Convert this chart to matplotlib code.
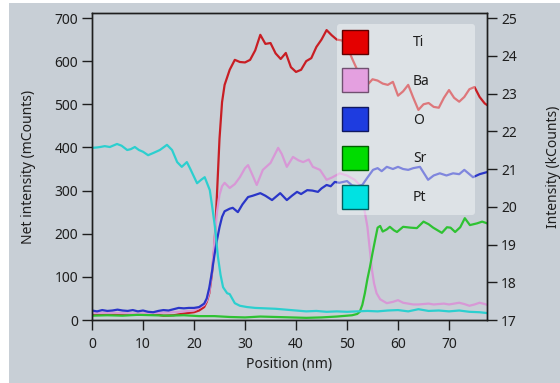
import matplotlib
matplotlib.use("Agg")
from matplotlib import pyplot as plt
from matplotlib.patches import Patch, Rectangle

plt.rcParams['font.family'] = ['Noto Sans', 'DejaVu Sans']

# (position nm, net intensity mCounts)
ti = [(0, 12), (2, 13), (4, 12), (6, 14), (8, 13), (10, 12), (12, 14), (14, 10), (16, 11),
      (18, 15), (20, 18), (21, 22), (22, 30), (22.5, 42), (23, 62), (23.5, 105), (24, 170),
      (24.5, 290), (25, 420), (25.5, 505), (26, 545), (27, 580), (28, 603), (29, 598),
      (30, 597), (31, 603), (32, 625), (33, 661), (34, 640), (35, 642), (36, 618), (37, 605),
      (38, 619), (39, 586), (40, 575), (41, 580), (42, 600), (43, 607), (44, 633), (45, 650),
      (46, 672), (47, 660), (48, 650), (49, 648), (50, 635), (51, 606), (52, 580), (53, 550),
      (54, 545), (55, 558), (56, 555), (57, 548), (58, 545), (59, 552), (60, 520), (61, 530),
      (62, 545), (63, 515), (64, 487), (65, 500), (66, 503), (67, 494), (68, 492), (69, 515),
      (70, 533), (71, 515), (72, 506), (73, 517), (74, 535), (75, 540), (76, 517), (77, 502),
      (77.5, 498)]
ba = [(0, 16), (4, 17), (8, 15), (12, 16), (16, 18), (20, 22), (21, 28), (22, 35), (22.5, 45),
      (23, 65), (23.5, 110), (24, 180), (24.5, 250), (25, 290), (25.5, 310), (26, 318),
      (27, 306), (28, 315), (29, 331), (30, 352), (30.6, 359), (31.5, 335), (32.3, 313),
      (33.5, 348), (35, 364), (36.5, 399), (37.2, 385), (38.2, 355), (39.4, 378), (40.5, 370),
      (41.4, 366), (42.5, 372), (43.3, 355), (44.7, 348), (46, 325), (47, 330), (48.6, 340),
      (50, 335), (51.5, 325), (52.5, 313), (53, 280), (53.5, 250), (54, 216), (54.5, 160),
      (54.9, 116), (55.3, 85), (55.8, 62), (56.5, 48), (57.8, 39), (59, 42), (60, 46),
      (61, 40), (62, 38), (63, 36), (64, 36), (65, 37), (66, 38), (67, 36), (68, 37), (69, 38),
      (70, 36), (71, 38), (72, 40), (73, 37), (74, 33), (75, 36), (76, 40), (77, 37), (77.5, 35)]
o = [(0, 22), (1, 20), (2, 23), (3, 21), (4, 22), (5, 24), (6, 22), (7, 21), (8, 23), (9, 20),
     (10, 22), (11, 19), (12, 18), (13, 21), (14, 23), (15, 22), (16, 25), (17, 28), (18, 27),
     (19, 28), (20, 28), (21, 30), (22, 38), (22.5, 50), (23, 75), (23.5, 110), (24, 150),
     (24.5, 185), (25, 215), (25.5, 239), (26, 252), (26.5, 255), (27, 258), (27.6, 260),
     (28.6, 250), (29.5, 268), (30.6, 285), (31.5, 288), (33, 294), (34, 288), (35.3, 278),
     (36.9, 294), (38.2, 278), (39.2, 288), (40.2, 297), (41, 292), (42.2, 301), (43.2, 300),
     (44.3, 297), (45, 305), (46, 313), (46.8, 310), (47.6, 320), (48.5, 318), (50, 322),
     (51, 312), (52, 310), (53, 313), (54, 330), (55.1, 348), (56, 352), (56.8, 345),
     (57.8, 355), (59, 350), (60, 355), (61, 350), (62, 348), (63, 352), (64.3, 355),
     (65.9, 325), (67, 335), (68.2, 340), (69.5, 335), (70.8, 340), (72, 338), (73, 348),
     (74.7, 331), (76, 338), (77.5, 343)]
sr = [(0, 10), (3, 11), (6, 10), (9, 12), (12, 11), (15, 10), (18, 11), (21, 9), (24, 9),
      (27, 7), (30, 6), (33, 8), (36, 7), (39, 6), (42, 5), (45, 6), (48, 8), (50, 10),
      (51, 11), (52, 14), (52.5, 19), (53, 35), (53.5, 62), (54, 95), (54.5, 123), (55, 155),
      (55.5, 185), (56, 214), (56.5, 218), (57, 205), (57.8, 210), (58.4, 216), (59.2, 208),
      (59.8, 204), (61, 216), (62.5, 214), (63.7, 213), (65, 228), (66, 222), (66.9, 214),
      (68.6, 202), (69.6, 215), (70.3, 214), (71.2, 204), (72.2, 215), (73.1, 236),
      (74.1, 220), (75.5, 224), (76.5, 228), (77.5, 224)]
pt = [(0, 399), (1, 400), (1.6, 401), (2.5, 403), (3.5, 401), (4.9, 408), (5.8, 404),
      (6.9, 394), (7.6, 396), (8.4, 401), (9.2, 394), (10, 390), (11, 382), (12, 387),
      (13.3, 394), (14.7, 406), (15.7, 394), (16.7, 366), (17.6, 355), (18.6, 366),
      (19.2, 352), (20.6, 317), (21.4, 325), (22.1, 331), (23.1, 301), (23.6, 260),
      (24.1, 216), (24.7, 146), (25.2, 105), (25.7, 76), (26.5, 62), (27, 60), (28, 39),
      (29, 33), (30.4, 30), (32, 28), (34, 27), (36, 26), (38, 24), (40, 22), (42, 20),
      (44, 21), (46, 19), (48, 20), (50, 19), (52, 20), (54, 21), (56, 20), (58, 22),
      (60, 23), (62, 20), (64, 25), (66, 21), (68, 22), (70, 20), (72, 22), (74, 19),
      (76, 18), (77.5, 16)]

names = ["Ti", "Ba", "O", "Sr", "Pt"]
series = [ti, ba, o, sr, pt]
line_colors = ["#c81e24", "#d898d6", "#2a36c8", "#2ec232", "#2ccfcf"]
box_colors = ["#e40000", "#e4a0e0", "#1e3ce0", "#00dc00", "#00e2e2"]
edge_colors = ["#600000", "#705070", "#101860", "#006000", "#006060"]

x_ticks = [0, 10, 20, 30, 40, 50, 60, 70]
left_ticks = [0, 100, 200, 300, 400, 500, 600, 700]
right_ticks = [17, 18, 19, 20, 21, 22, 23, 24, 25]


def main():
    bg = "#c8cfd6"
    ink = "#1e1e1e"
    fig = plt.figure(figsize=(5.6, 3.83), dpi=100, facecolor="white")
    fig.patches.append(Rectangle((9 / 560, 0), 1, 1 - 3 / 383, transform=fig.transFigure,
                                 facecolor=bg, edgecolor="none", zorder=-10))
    ax = fig.add_axes([92 / 560, 1 - 320 / 383, 395 / 560, 307 / 383])
    ax.set_facecolor(bg)

    for pts, c in zip(series, line_colors):
        xs = [p[0] for p in pts]
        ys = [p[1] for p in pts]
        ax.plot(xs, ys, color=c, linewidth=1.6)

    ytop = 711.6
    ax.set_xlim(0, 77.45)
    ax.set_ylim(0, ytop)
    ax.set_xticks(x_ticks)
    ax.set_yticks(left_ticks)
    ax.set_xlabel("Position (nm)", fontsize=10, color=ink, labelpad=4)
    ax.set_ylabel("Net intensity (mCounts)", fontsize=10, color=ink, labelpad=13)
    ax.tick_params(axis="x", direction="out", length=7, width=1, pad=5, labelsize=10, colors=ink)
    ax.tick_params(axis="y", direction="out", length=7, width=1, pad=3, labelsize=10, colors=ink)

    ax2 = ax.twinx()
    ax2.set_ylim(17, 17 + 8 * ytop / 700)
    ax2.set_yticks(right_ticks)
    ax2.tick_params(axis="y", direction="out", length=7, width=1, pad=3, labelsize=10, colors=ink)
    ax2.set_ylabel("Intensity (kCounts)", fontsize=10, color=ink, labelpad=21)
    for a in (ax, ax2):
        for s in a.spines.values():
            s.set_color(ink)
            s.set_linewidth(1)

    handles = [Patch(facecolor=f, edgecolor=e, linewidth=1) for f, e in zip(box_colors, edge_colors)]
    leg = ax2.legend(handles, names, loc="upper left", bbox_to_anchor=(0.62, 0.3, 0.35, 0.664),
                     mode="expand", borderaxespad=0, fontsize=10,
                     handlelength=1.87, handleheight=2.28, labelspacing=1.07,
                     borderpad=0.4, handletextpad=3.2, fancybox=True,
                     facecolor="white", framealpha=0.4, edgecolor="none")
    for t in leg.get_texts():
        t.set_color(ink)

    fig.savefig("out.png", dpi=100, facecolor=fig.get_facecolor())
    plt.close()


if __name__ == "__main__":
    main()
